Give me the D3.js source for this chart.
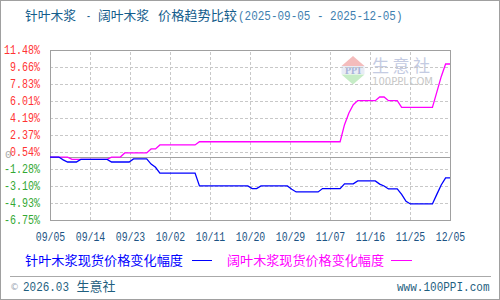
<!DOCTYPE html>
<html><head><meta charset="utf-8">
<script src="https://cdn.jsdelivr.net/npm/d3@7/dist/d3.min.js"></script>
<style>
html,body{margin:0;padding:0;background:#fff;}
svg{display:block;}
</style></head>
<body>
<svg id="chart" width="500" height="300"></svg>
<script>
// ---- data ----
const xLabels = ["09/05","09/14","09/23","10/02","10/11","10/20","10/29","11/07","11/16","11/25","12/05"];
const yTicks = [11.48, 9.66, 7.83, 6.01, 4.19, 2.37, 0.54, -1.28, -3.10, -4.93, -6.75];
const dateRange = ["2025-09-05", "2025-12-05"];
const productA = "针叶木浆";
const productB = "阔叶木浆";
const titleTail = "价格趋势比较";
const softName = "针叶木浆现货价格变化幅度";
const hardName = "阔叶木浆现货价格变化幅度";
const softDates = ["2025-09-05","2025-09-07","2025-09-08","2025-09-09","2025-09-11","2025-09-12","2025-09-18","2025-09-19","2025-09-23","2025-09-24","2025-09-27","2025-09-28","2025-09-29","2025-09-30","2025-10-08","2025-10-09","2025-10-20","2025-10-21","2025-10-22","2025-10-23","2025-10-29","2025-10-30","2025-10-31","2025-11-05","2025-11-06","2025-11-10","2025-11-11","2025-11-13","2025-11-14","2025-11-18","2025-11-19","2025-11-20","2025-11-21","2025-11-23","2025-11-24","2025-11-25","2025-11-26","2025-12-01","2025-12-02","2025-12-03","2025-12-04","2025-12-05"];
const softValues = [0,0,-0.3,-0.53,-0.53,-0.25,-0.25,-0.53,-0.53,-0.2,-0.2,-0.75,-1.1,-1.72,-1.72,-3.09,-3.09,-3.38,-3.38,-3.09,-3.09,-3.45,-3.74,-3.74,-3.38,-3.38,-2.88,-2.88,-2.56,-2.56,-2.9,-3.1,-3.42,-3.42,-4.0,-4.75,-5.03,-5.03,-4.0,-3.0,-2.24,-2.24];
const hardDates = ["2025-09-05","2025-09-09","2025-09-10","2025-09-18","2025-09-19","2025-09-21","2025-09-22","2025-09-27","2025-09-28","2025-09-29","2025-09-30","2025-10-08","2025-10-09","2025-11-10","2025-11-11","2025-11-12","2025-11-13","2025-11-14","2025-11-18","2025-11-19","2025-11-20","2025-11-21","2025-11-23","2025-11-24","2025-12-01","2025-12-02","2025-12-03","2025-12-04","2025-12-05"];
const hardValues = [0,0,-0.25,-0.25,0,0,0.44,0.44,0.87,0.87,1.30,1.30,1.64,1.64,3.47,4.73,5.62,6.05,6.05,6.44,6.44,6.05,6.05,5.33,5.33,6.96,8.62,9.98,9.98];

// ---- layout ----
const svg = d3.select("#chart");
const L = 50, R = 450, T = 50, B = 220;
const parse = d3.timeParse("%Y-%m-%d");
const cjk = "'Noto Sans CJK SC', sans-serif";
const mono = "'Liberation Mono', monospace";

// outer frame
svg.append("rect").attr("x",0.5).attr("y",0.5).attr("width",499).attr("height",299)
  .attr("fill","#fff").attr("stroke","#a0a0a0").attr("stroke-width",1);

// title (pieces placed as in reference)
const tg = svg.append("g").attr("font-size",13);
tg.append("text").attr("x",25).attr("y",20).attr("font-family",cjk).attr("fill","#135d8c")
  .attr("textLength",51).attr("lengthAdjust","spacingAndGlyphs").text(productA);
tg.append("text").attr("x",86).attr("y",20).attr("font-family",mono).attr("fill","#135d8c")
  .attr("textLength",5).attr("lengthAdjust","spacingAndGlyphs").text("-");
tg.append("text").attr("x",98).attr("y",20).attr("font-family",cjk).attr("fill","#135d8c")
  .attr("textLength",51).attr("lengthAdjust","spacingAndGlyphs").text(productB);
tg.append("text").attr("x",158).attr("y",20).attr("font-family",cjk).attr("fill","#135d8c")
  .attr("textLength",79).attr("lengthAdjust","spacingAndGlyphs").text(titleTail);
tg.append("text").attr("x",238).attr("y",20).attr("font-family",mono).attr("fill","#3f7fb0")
  .attr("textLength",164.5).attr("lengthAdjust","spacingAndGlyphs")
  .text("(" + dateRange[0] + " - " + dateRange[1] + ")");

// scales
const x = d3.scaleTime().domain(dateRange.map(parse)).range([L, R]);
const xp = d3.scalePoint().domain(xLabels).range([L, R]);
const y = d3.scaleLinear().domain([yTicks[yTicks.length-1], yTicks[0]]).range([B, T]);

// watermark
const wm = svg.append("g");
wm.append("polygon").attr("points", [[353,56],[341.5,66],[364.5,66]].join(" ")).attr("fill","#f4bcbc");
wm.append("rect").attr("x",341.5).attr("y",66).attr("width",23).attr("height",8).attr("fill","#e8ecf6");
wm.append("text").attr("x",353).attr("y",73.5).attr("text-anchor","middle")
  .attr("font-family","'Liberation Serif', serif").attr("font-size",10).attr("font-weight","bold")
  .attr("fill","#a8b4d8").text("PPI");
wm.append("polygon").attr("points", [[341.5,74.5],[364.5,74.5],[353,84.5]].join(" ")).attr("fill","#c6ecc6");
wm.append("text").attr("x",372).attr("y",72)
  .attr("font-family",cjk).attr("font-size",17)
  .attr("fill","#c4cbe2").attr("textLength",58).attr("lengthAdjust","spacing").text("生意社");
wm.append("text").attr("x",372).attr("y",85)
  .attr("font-family","'DejaVu Sans', sans-serif").attr("font-size",10)
  .attr("fill","#c8c8c8").attr("textLength",61).attr("lengthAdjust","spacingAndGlyphs").text("100PPI.COM");

// gridlines
const gy = svg.append("g").attr("transform",`translate(${L},0)`)
  .call(d3.axisLeft(y).tickValues(yTicks).tickSize(-(R-L)).tickFormat(""));
gy.select(".domain").remove();
gy.selectAll("line").attr("stroke","#c8c8c8").attr("stroke-dasharray","3,2").attr("shape-rendering","crispEdges");
const gx = svg.append("g").attr("transform",`translate(0,${B})`)
  .call(d3.axisBottom(xp).tickSize(-(B-T)).tickFormat(""));
gx.select(".domain").remove();
gx.selectAll("line").attr("stroke","#c8c8c8").attr("stroke-dasharray","3,2").attr("shape-rendering","crispEdges");

// plot border + zero line
svg.append("rect").attr("x",L).attr("y",T).attr("width",R-L).attr("height",B-T)
  .attr("fill","none").attr("stroke","#a0a0a0").attr("shape-rendering","crispEdges");
svg.append("line").attr("x1",L).attr("x2",R).attr("y1",y(0)).attr("y2",y(0))
  .attr("stroke","#a0a0a0").attr("shape-rendering","crispEdges");

// zero label (mostly hidden behind 0.54%)
svg.append("text").attr("x",5).attr("y",158)
  .attr("font-family",mono).attr("font-size",11)
  .attr("fill","#aaaaaa").text("0");

// y axis labels
const ya = svg.append("g").attr("transform",`translate(${L},0)`)
  .call(d3.axisLeft(y).tickValues(yTicks).tickSize(0).tickPadding(10)
    .tickFormat(d => d.toFixed(2) + "%"));
ya.select(".domain").remove();
ya.selectAll("text")
  .attr("font-family",mono).attr("font-size",12)
  .attr("fill", d => d >= 0 ? "#ff3333" : "#33a833")
  .attr("textLength", function(){ return this.textContent.length * 6; })
  .attr("lengthAdjust","spacingAndGlyphs");

// x axis labels
const xa = svg.append("g").attr("transform",`translate(0,${B})`)
  .call(d3.axisBottom(xp).tickSize(0).tickPadding(12));
xa.select(".domain").remove();
xa.selectAll("text")
  .attr("font-family",mono).attr("font-size",12)
  .attr("fill","#1c5484").attr("textLength",29.5).attr("lengthAdjust","spacingAndGlyphs");

// lines
const line = d3.line().x(d => x(d[0])).y(d => y(d[1]));
const hardData = hardDates.map((d,i) => [parse(d), hardValues[i]]);
const softData = softDates.map((d,i) => [parse(d), softValues[i]]);
svg.append("path").datum(hardData).attr("d", line)
  .attr("fill","none").attr("stroke","#ff00ff").attr("stroke-width",1.3);
svg.append("path").datum(softData).attr("d", line)
  .attr("fill","none").attr("stroke","#0000ff").attr("stroke-width",1.3);

// legend
const lg = svg.append("g").attr("font-family",cjk).attr("font-size",13);
lg.append("text").attr("x",25).attr("y",265).attr("fill","#0000ff")
  .attr("textLength",158).attr("lengthAdjust","spacingAndGlyphs").text(softName);
lg.append("line").attr("x1",192).attr("x2",212).attr("y1",260.5).attr("y2",260.5)
  .attr("stroke","#0000ff").attr("stroke-width",1);
lg.append("text").attr("x",227).attr("y",265).attr("fill","#ff00ff")
  .attr("textLength",157).attr("lengthAdjust","spacingAndGlyphs").text(hardName);
lg.append("line").attr("x1",391).attr("x2",412).attr("y1",260.5).attr("y2",260.5)
  .attr("stroke","#ff00ff").attr("stroke-width",1);

// footer
svg.append("line").attr("x1",10).attr("x2",491).attr("y1",276.5).attr("y2",276.5)
  .attr("stroke","#aaaaaa").attr("stroke-width",1);
svg.append("text").attr("x",10).attr("y",290)
  .attr("font-family","'DejaVu Sans', sans-serif").attr("font-size",9)
  .attr("fill","#9aa6b4").text("©");
svg.append("text").attr("x",23).attr("y",290.5)
  .attr("font-family",mono).attr("font-size",12)
  .attr("fill","#1f5f7f").attr("textLength",46).attr("lengthAdjust","spacingAndGlyphs").text("2026.03");
svg.append("text").attr("x",76.5).attr("y",290.5)
  .attr("font-family",cjk).attr("font-size",13)
  .attr("fill","#1f5f7f").text("生意社");
svg.append("text").attr("x",489.5).attr("y",290.5).attr("text-anchor","end")
  .attr("font-family",mono).attr("font-size",12)
  .attr("fill","#1f5f7f").attr("textLength",92.5).attr("lengthAdjust","spacingAndGlyphs").text("www.100PPI.com");
</script>
</body></html>
